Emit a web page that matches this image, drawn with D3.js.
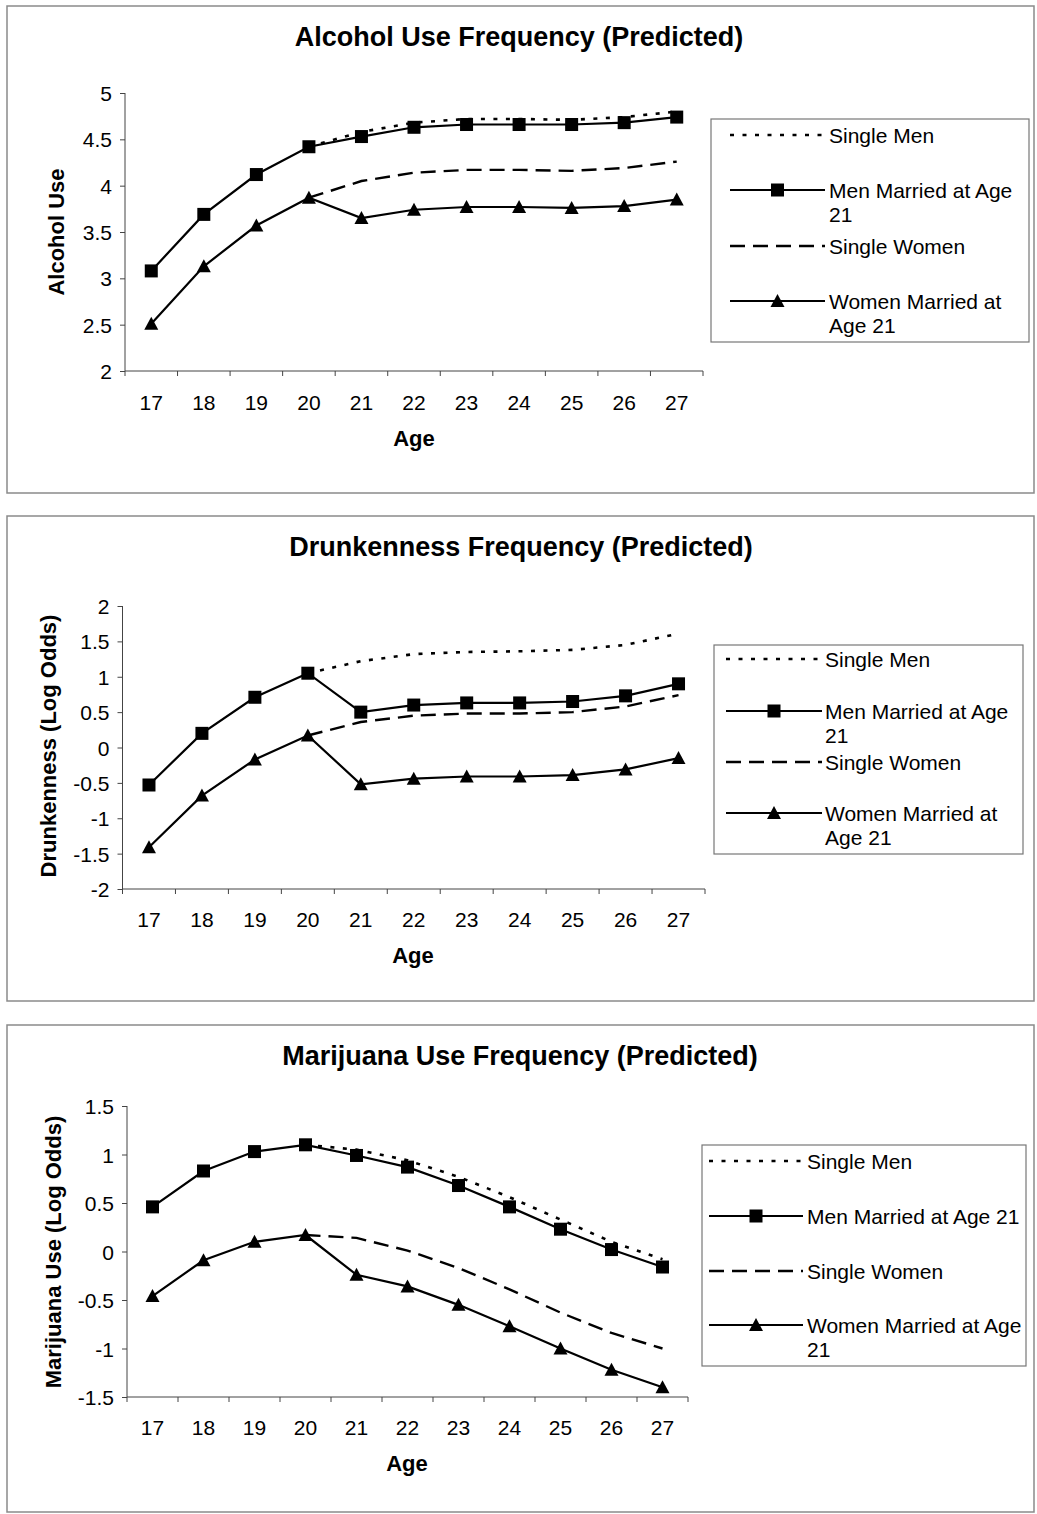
<!DOCTYPE html>
<html>
<head>
<meta charset="utf-8">
<script src="https://cdn.jsdelivr.net/npm/d3@7"></script>
<style>
  html, body { margin: 0; padding: 0; background: #fff; }
  svg { display: block; }
  text { font-family: "Liberation Sans", Arial, sans-serif; fill: #000; }
</style>
</head>
<body>
<svg id="chart" width="1037" height="1514"></svg>
<script>
// ---------------- DATA ----------------
const ages = ["17","18","19","20","21","22","23","24","25","26","27"];

const chartTitles = [
  "Alcohol Use Frequency (Predicted)",
  "Drunkenness Frequency (Predicted)",
  "Marijuana Use Frequency (Predicted)"
];
const yAxisTitles = ["Alcohol Use", "Drunkenness (Log Odds)", "Marijuana Use (Log Odds)"];
const xAxisTitle = "Age";

const alcoholTicks = [2, 2.5, 3, 3.5, 4, 4.5, 5];
const drunkTicks = [-2, -1.5, -1, -0.5, 0, 0.5, 1, 1.5, 2];
const marijuanaTicks = [-1.5, -1, -0.5, 0, 0.5, 1, 1.5];

// Alcohol use
const alcoholSingleMen     = [null, null, null, 4.42, 4.58, 4.68, 4.72, 4.72, 4.71, 4.74, 4.80];
const alcoholMenMarried    = [3.08, 3.69, 4.12, 4.42, 4.53, 4.63, 4.66, 4.66, 4.66, 4.68, 4.74];
const alcoholSingleWomen   = [null, null, null, 3.87, 4.05, 4.14, 4.17, 4.17, 4.16, 4.19, 4.26];
const alcoholWomenMarried  = [2.51, 3.13, 3.57, 3.87, 3.65, 3.74, 3.77, 3.77, 3.76, 3.78, 3.85];

// Drunkenness
const drunkSingleMen       = [null, null, null, 1.05, 1.22, 1.32, 1.35, 1.36, 1.38, 1.45, 1.61];
const drunkMenMarried      = [-0.53, 0.20, 0.71, 1.05, 0.50, 0.60, 0.63, 0.63, 0.65, 0.73, 0.90];
const drunkSingleWomen     = [null, null, null, 0.17, 0.36, 0.45, 0.48, 0.48, 0.50, 0.58, 0.74];
const drunkWomenMarried    = [-1.41, -0.68, -0.17, 0.17, -0.52, -0.44, -0.41, -0.41, -0.39, -0.31, -0.15];

// Marijuana use
const marijuanaSingleMen      = [null, null, null, 1.10, 1.05, 0.94, 0.77, 0.56, 0.33, 0.10, -0.08];
const marijuanaMenMarried     = [0.46, 0.83, 1.03, 1.10, 0.99, 0.87, 0.68, 0.46, 0.23, 0.02, -0.16];
const marijuanaSingleWomen    = [null, null, null, 0.17, 0.14, 0.01, -0.17, -0.39, -0.63, -0.84, -1.00];
const marijuanaWomenMarried   = [-0.46, -0.09, 0.10, 0.17, -0.24, -0.36, -0.55, -0.77, -1.00, -1.22, -1.40];

const seriesNames = ["Single Men", "Men Married at Age 21", "Single Women", "Women Married at Age 21"];
const legendLabelsWrapA = [["Single Men"], ["Men Married at Age", "21"], ["Single Women"], ["Women Married at", "Age 21"]];
const legendLabelsWrapB = [["Single Men"], ["Men Married at Age 21"], ["Single Women"], ["Women Married at Age", "21"]];

// ---------------- STYLE / LAYOUT ----------------
const FONT = '"Liberation Sans", Arial, sans-serif';
const TICK_FS = 21, LEG_FS = 21, TITLE_FS = 27, AXT_FS = 22;
const seriesStyle = [
  { dash: "4,8.5", width: 2.6, marker: null },
  { dash: null, width: 2.2, marker: "square" },
  { dash: "15,8", width: 2.4, marker: null },
  { dash: null, width: 2.2, marker: "triangle" }
];

const panels = [
  {
    title: chartTitles[0], yTitle: yAxisTitles[0], ticks: alcoholTicks, domain: [2, 5],
    data: [alcoholSingleMen, alcoholMenMarried, alcoholSingleWomen, alcoholWomenMarried],
    frame: [7, 6, 1034, 493], plot: { x0: 125, x1: 703, yTop: 93, yBot: 371 },
    titleX: 519, titleY: 36, yTitleX: 56, yTitleY: 232, xLabY: 402, ageX: 414, ageY: 438,
    legend: { box: [711, 119, 1029, 342], lx0: 730, lx1: 825, tx: 829, rows: [135, 190, 246, 301], labels: legendLabelsWrapA }
  },
  {
    title: chartTitles[1], yTitle: yAxisTitles[1], ticks: drunkTicks, domain: [-2, 2],
    data: [drunkSingleMen, drunkMenMarried, drunkSingleWomen, drunkWomenMarried],
    frame: [7, 516, 1034, 1001], plot: { x0: 122.5, x1: 705, yTop: 606, yBot: 889 },
    titleX: 521, titleY: 546, yTitleX: 48, yTitleY: 746, xLabY: 919, ageX: 413, ageY: 955,
    legend: { box: [714, 645, 1023, 854], lx0: 726, lx1: 822, tx: 825, rows: [659, 711, 762, 813], labels: legendLabelsWrapA }
  },
  {
    title: chartTitles[2], yTitle: yAxisTitles[2], ticks: marijuanaTicks, domain: [-1.5, 1.5],
    data: [marijuanaSingleMen, marijuanaMenMarried, marijuanaSingleWomen, marijuanaWomenMarried],
    frame: [7, 1025, 1034, 1512], plot: { x0: 127, x1: 688, yTop: 1106, yBot: 1397 },
    titleX: 520, titleY: 1055, yTitleX: 53, yTitleY: 1252, xLabY: 1427, ageX: 407, ageY: 1463,
    legend: { box: [702, 1145, 1026, 1366], lx0: 709, lx1: 803, tx: 807, rows: [1161, 1216, 1271, 1325], labels: legendLabelsWrapB }
  }
];

const svg = d3.select("#chart");
const capOff = fs => fs * 0.36; // baseline offset from cap-centre

function drawMarker(g, type, cx, cy) {
  if (type === "square") {
    g.append("rect").attr("x", cx - 6.5).attr("y", cy - 6.5).attr("width", 13).attr("height", 13).attr("fill", "#000");
  } else if (type === "triangle") {
    g.append("path").attr("d", `M${cx},${cy - 7}L${cx + 7},${cy + 6}L${cx - 7},${cy + 6}Z`).attr("fill", "#000");
  }
}

panels.forEach(p => {
  const g = svg.append("g");
  // frame
  g.append("rect")
    .attr("x", p.frame[0]).attr("y", p.frame[1])
    .attr("width", p.frame[2] - p.frame[0]).attr("height", p.frame[3] - p.frame[1])
    .attr("fill", "none").attr("stroke", "#8a8a8a").attr("stroke-width", 1.5);

  // title
  g.append("text").attr("x", p.titleX).attr("y", p.titleY + capOff(TITLE_FS))
    .attr("text-anchor", "middle").attr("font-size", TITLE_FS).attr("font-weight", "bold").text(p.title);

  const x = d3.scaleBand().domain(ages).range([p.plot.x0, p.plot.x1]).paddingInner(0).paddingOuter(0);
  const y = d3.scaleLinear().domain(p.domain).range([p.plot.yBot, p.plot.yTop]);
  const cx = a => x(a) + x.bandwidth() / 2;

  // y axis
  const yAxis = d3.axisLeft(y).tickValues(p.ticks).tickSize(5).tickPadding(8).tickFormat(d => String(d));
  const ya = g.append("g").attr("transform", `translate(${p.plot.x0},0)`).call(yAxis);
  ya.select(".domain").attr("stroke", "#444").attr("stroke-width", 1).attr("d", `M0,${p.plot.yTop}V${p.plot.yBot}`);
  ya.selectAll(".tick line").attr("stroke", "#444");
  ya.selectAll(".tick text").attr("font-family", FONT).attr("font-size", TICK_FS).attr("fill", "#000").attr("dy", "0.36em");

  // x axis: labels at band centres, ticks at band boundaries
  const xAxis = d3.axisBottom(x).tickSize(0).tickPadding(0);
  const xa = g.append("g").attr("transform", `translate(0,${p.plot.yBot})`).call(xAxis);
  xa.select(".domain").attr("stroke", "#444").attr("stroke-width", 1).attr("d", `M${p.plot.x0},0H${p.plot.x1}`);
  xa.selectAll(".tick text").attr("font-family", FONT).attr("font-size", TICK_FS).attr("fill", "#000")
    .attr("y", p.xLabY - p.plot.yBot + capOff(TICK_FS)).attr("dy", null);
  const edges = ages.map(a => x(a)).concat([x(ages[ages.length - 1]) + x.bandwidth()]);
  xa.selectAll(".edge").data(edges).enter().append("line")
    .attr("x1", d => d).attr("x2", d => d).attr("y1", 0).attr("y2", 5).attr("stroke", "#444");

  // axis titles
  g.append("text").attr("x", p.ageX).attr("y", p.ageY + capOff(AXT_FS)).attr("text-anchor", "middle")
    .attr("font-size", AXT_FS).attr("font-weight", "bold").text(xAxisTitle);
  g.append("text").attr("transform", `translate(${p.yTitleX + capOff(AXT_FS)},${p.yTitleY}) rotate(-90)`)
    .attr("text-anchor", "middle").attr("font-size", AXT_FS).attr("font-weight", "bold").text(p.yTitle);

  // series
  p.data.forEach((vals, i) => {
    const st = seriesStyle[i];
    const pts = ages.map((a, k) => ({ a, v: vals[k] }));
    const line = d3.line().defined(d => d.v !== null).x(d => cx(d.a)).y(d => y(d.v));
    g.append("path").datum(pts).attr("d", line).attr("fill", "none").attr("stroke", "#000")
      .attr("stroke-width", st.width).attr("stroke-dasharray", st.dash);
  });
  p.data.forEach((vals, i) => {
    const st = seriesStyle[i];
    if (!st.marker) return;
    ages.forEach((a, k) => { if (vals[k] !== null) drawMarker(g, st.marker, cx(a), y(vals[k])); });
  });

  // legend
  const L = p.legend;
  g.append("rect").attr("x", L.box[0]).attr("y", L.box[1])
    .attr("width", L.box[2] - L.box[0]).attr("height", L.box[3] - L.box[1])
    .attr("fill", "#fff").attr("stroke", "#777").attr("stroke-width", 1.2);
  seriesNames.forEach((name, i) => {
    const st = seriesStyle[i];
    const ry = L.rows[i];
    g.append("line").attr("x1", L.lx0).attr("x2", L.lx1).attr("y1", ry).attr("y2", ry)
      .attr("stroke", "#000").attr("stroke-width", st.width).attr("stroke-dasharray", st.dash);
    if (st.marker) drawMarker(g, st.marker, (L.lx0 + L.lx1) / 2, ry);
    const t = g.append("text").attr("x", L.tx).attr("y", ry + capOff(LEG_FS)).attr("font-size", LEG_FS);
    L.labels[i].forEach((ln, j) => {
      t.append("tspan").attr("x", L.tx).attr("dy", j === 0 ? 0 : 24).text(ln);
    });
  });
});
</script>
</body>
</html>
